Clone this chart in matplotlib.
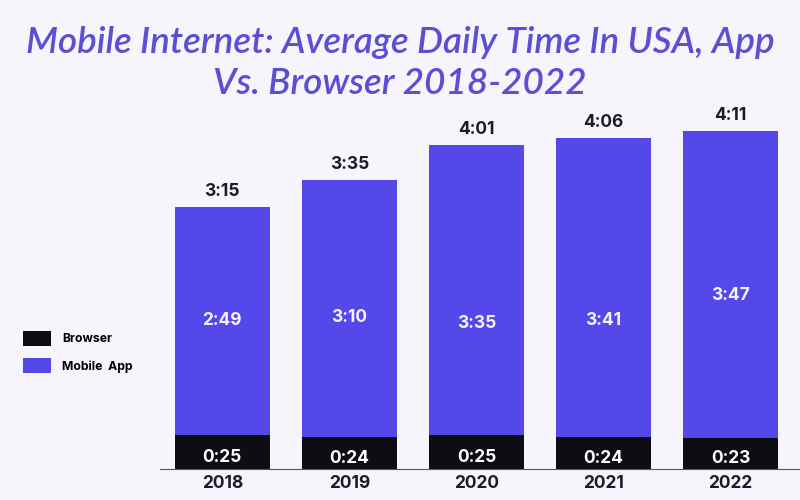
import matplotlib.pyplot as plt

years = ["2018", "2019", "2020", "2021", "2022"]
browser = [25, 24, 25, 24, 23]          # minutes
mobile_app = [169, 190, 215, 221, 227]  # minutes
totals = [195, 215, 241, 246, 251]

# where the app labels sit inside the bars (minutes above the baseline)
app_label_y = [110, 112, 108, 110, 128]

def fmt(m):
    return "%d:%02d" % (m // 60, m % 60)

bg = "#f8f4fb"
purple = "#5548ea"
black = "#0d0d14"
dark = "#1b1b2a"

plt.rcParams["font.family"] = ["Inter", "DejaVu Sans"]

fig = plt.figure(figsize=(8, 5), dpi=100, facecolor=bg)
ax = fig.add_axes([0.2, 0.062, 0.8, 0.73], facecolor=bg)

x = range(len(years))
ax.bar(x, browser, width=0.75, color=black, label="Browser")
ax.bar(x, mobile_app, width=0.75, bottom=browser, color=purple, label="Mobile  App")

for i in x:
    ax.text(i, browser[i] / 2 - 4, fmt(browser[i]), ha="center", va="center",
            color="white", fontsize=12.5, fontweight="bold")
    ax.text(i, app_label_y[i], fmt(mobile_app[i]), ha="center",
            va="center", color="#f4f2ff", fontsize=12.5, fontweight="bold")
    ax.text(i, totals[i] + 4, fmt(totals[i]), ha="center", va="bottom",
            color=dark, fontsize=12.5, fontweight="bold")

ax.set_xlim(-0.49, 4.547)
ax.set_ylim(0, 270)
ax.set_xticks(list(x))
ax.set_xticklabels(years, fontsize=12.5, fontweight="bold", color=dark)
ax.tick_params(axis="x", length=0, pad=4)
ax.set_yticks([])
for s in ["top", "right", "left"]:
    ax.spines[s].set_visible(False)
ax.spines["bottom"].set_color("#555566")

fig.text(0.5, 0.874, "Mobile Internet: Average Daily Time In USA, App\nVs. Browser 2018-2022",
         ha="center", va="center", fontsize=26.5, color="#5b4fd6", style="italic",
         fontweight=600, family="Lato", linespacing=1.33)

fig.legend(loc="center left", bbox_to_anchor=(0.015, 0.296), frameon=False,
           prop={"size": 8.8, "weight": "bold"}, handlelength=2.3, handleheight=1.5,
           labelspacing=1.0, handletextpad=0.9)

fig.savefig("out.png", facecolor=bg)
